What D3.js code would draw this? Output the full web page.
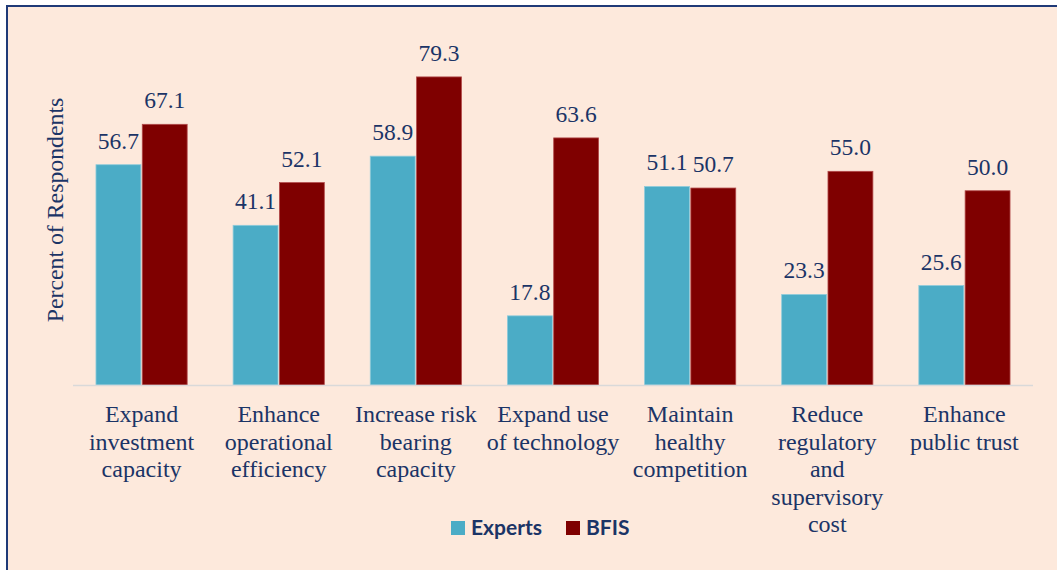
<!DOCTYPE html>
<html>
<head>
<meta charset="utf-8">
<script src="https://cdn.jsdelivr.net/npm/d3@7"></script>
<style>
  html, body { margin: 0; padding: 0; background: #ffffff; }
  svg { display: block; }
</style>
</head>
<body>
<div id="chart"></div>
<script>
// chart data
var categories = [
    ["Expand", "investment", "capacity"],
    ["Enhance", "operational", "efficiency"],
    ["Increase risk", "bearing", "capacity"],
    ["Expand use", "of technology"],
    ["Maintain", "healthy", "competition"],
    ["Reduce", "regulatory", "and", "supervisory", "cost"],
    ["Enhance", "public trust"]
];
var seriesNames = ["Experts", "BFIS"];
var experts = [56.7, 41.1, 58.9, 17.8, 51.1, 23.3, 25.6];
var bfis = [67.1, 52.1, 79.3, 63.6, 50.7, 55.0, 50.0];

var W = 1057, H = 570;
var colors = { Experts: "#4bacc6", BFIS: "#7f0000" };
var strokes = { Experts: "#8fcbdb", BFIS: "#b24a4a" };
var textColor = "#1b3466";
var serifFont = "Liberation Serif, Times New Roman, serif";
var sansFont = "Lato, Open Sans, sans-serif";

var svg = d3.select("#chart").append("svg")
    .attr("width", W)
    .attr("height", H);

// panel background + border
svg.append("rect")
    .attr("x", 7).attr("y", 6)
    .attr("width", W + 10).attr("height", H + 10)
    .attr("fill", "#fde9dc")
    .attr("stroke", "#1f3a77")
    .attr("stroke-width", 2);

var baseY = 385;
var y = d3.scaleLinear().domain([0, 90]).range([baseY, baseY - 90 * 3.885]);

var x0 = d3.scaleBand()
    .domain(d3.range(categories.length))
    .range([73, 1033])
    .paddingInner(0.335)
    .paddingOuter(0.1675);

var x1 = d3.scaleBand()
    .domain(seriesNames)
    .range([0, x0.bandwidth()])
    .paddingInner(0.03);

var rows = categories.map(function (c, i) {
    return { i: i, values: [
        { key: "Experts", v: experts[i] },
        { key: "BFIS", v: bfis[i] }
    ] };
});

var groups = svg.selectAll("g.cat")
    .data(rows)
    .enter().append("g")
    .attr("class", "cat")
    .attr("transform", function (d) { return "translate(" + x0(d.i) + ",0)"; });

groups.selectAll("rect")
    .data(function (d) { return d.values; })
    .enter().append("rect")
    .attr("x", function (d) { return x1(d.key); })
    .attr("y", function (d) { return y(d.v); })
    .attr("width", x1.bandwidth())
    .attr("height", function (d) { return y(0) - y(d.v); })
    .attr("fill", function (d) { return colors[d.key]; })
    .attr("stroke", function (d) { return strokes[d.key]; })
    .attr("stroke-width", 0.8);

// value labels
groups.selectAll("text.val")
    .data(function (d) { return d.values; })
    .enter().append("text")
    .attr("class", "val")
    .attr("x", function (d) { return x1(d.key) + x1.bandwidth() / 2; })
    .attr("y", function (d) { return y(d.v) - 16; })
    .attr("text-anchor", "middle")
    .attr("font-family", serifFont)
    .attr("font-size", "23.5px")
    .attr("fill", textColor)
    .text(function (d) { return d.v.toFixed(1); });

// x axis line
svg.append("line")
    .attr("x1", 73).attr("x2", 1033)
    .attr("y1", baseY + 0.5).attr("y2", baseY + 0.5)
    .attr("stroke", "#d9d9d9")
    .attr("stroke-width", 1.5);

// category labels
var catLabels = svg.selectAll("text.catlabel")
    .data(categories)
    .enter().append("text")
    .attr("class", "catlabel")
    .attr("text-anchor", "middle")
    .attr("font-family", serifFont)
    .attr("font-size", "24px")
    .attr("fill", textColor)
    .attr("transform", function (d, i) {
        return "translate(" + (x0(i) + x0.bandwidth() / 2) + ",422)";
    });

catLabels.selectAll("tspan")
    .data(function (d) { return d; })
    .enter().append("tspan")
    .attr("x", 0)
    .attr("y", function (d, j) { return j * 27.5; })
    .text(function (d) { return d; });

// y axis title
svg.append("text")
    .attr("transform", "translate(63,210) rotate(-90)")
    .attr("text-anchor", "middle")
    .attr("font-family", serifFont)
    .attr("font-size", "23.8px")
    .attr("fill", textColor)
    .text("Percent of Respondents");

// legend
var legendX = [451, 566];
var legend = svg.selectAll("g.legend")
    .data(seriesNames)
    .enter().append("g")
    .attr("class", "legend")
    .attr("transform", function (d, i) { return "translate(" + legendX[i] + ",521)"; });

legend.append("rect")
    .attr("width", 14).attr("height", 14)
    .attr("fill", function (d) { return colors[d]; });

legend.append("text")
    .attr("x", 20).attr("y", 14)
    .attr("font-family", sansFont)
    .attr("font-weight", "bold")
    .attr("font-size", "21px")
    .attr("fill", textColor)
    .text(function (d) { return d; });
</script>
</body>
</html>
